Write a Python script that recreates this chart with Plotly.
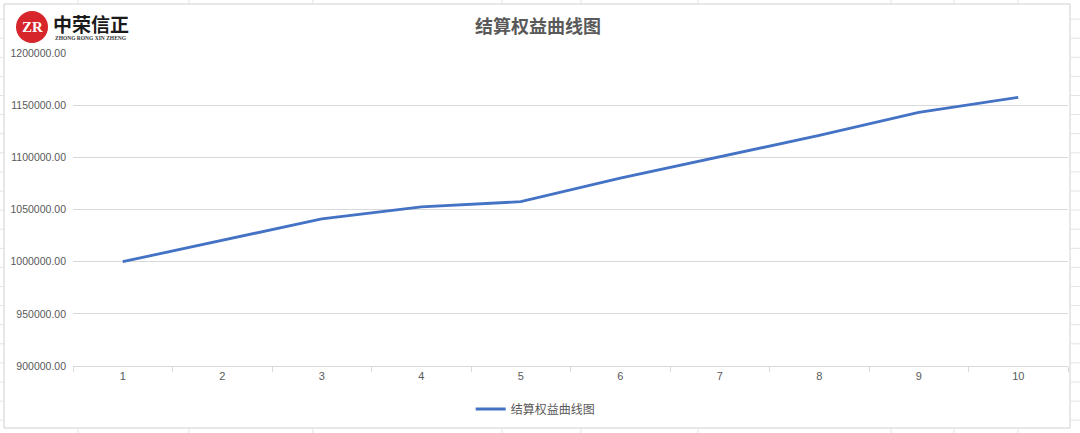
import plotly.graph_objects as go

categories = ["1", "2", "3", "4", "5", "6", "7", "8", "9", "10"]
equity = [1000000, 1020500, 1041000, 1052500, 1057500, 1080000, 1100500, 1121000, 1143000, 1157500]
series_name = "结算权益曲线图"
title_text = "结算权益曲线图"

W, H = 1080, 433
L, R, T, B = 73, 12, 53, 67
PW, PH = W - L - R, H - T - B


def px(x):
    return (x - L) / PW


def py(y):
    return (H - B - y) / PH


fig = go.Figure()
fig.add_trace(go.Scatter(
    x=categories, y=equity, mode="lines", name=series_name,
    line=dict(color="#4472C4", width=2.8),
))

CELL = "#e3e3e3"
shapes = []
# spreadsheet cell lines visible around the chart object
for k in range(23):
    yy = 19.1 * (k + 1)
    if yy > H:
        break
    shapes.append(dict(type="line", xref="paper", yref="paper", x0=px(1071), x1=px(1080), y0=py(yy), y1=py(yy),
                       line=dict(color=CELL, width=1), layer="below"))
    shapes.append(dict(type="line", xref="paper", yref="paper", x0=px(0), x1=px(3.5), y0=py(yy), y1=py(yy),
                       line=dict(color=CELL, width=1), layer="below"))
for xx in [78, 189, 313, 502, 581, 698, 891, 954, 1018]:
    shapes.append(dict(type="line", xref="paper", yref="paper", x0=px(xx), x1=px(xx), y0=py(0), y1=py(3.5),
                       line=dict(color=CELL, width=1), layer="below"))
    shapes.append(dict(type="line", xref="paper", yref="paper", x0=px(xx), x1=px(xx), y0=py(428.5), y1=py(433),
                       line=dict(color=CELL, width=1), layer="below"))
shapes += [
    # chart area border
    dict(type="rect", xref="paper", yref="paper", x0=px(4), x1=px(1070), y0=py(428), y1=py(4),
         line=dict(color="#d0d0d0", width=1), fillcolor="rgba(0,0,0,0)", layer="below"),
    # logo circle
    dict(type="circle", xref="paper", yref="paper", x0=px(16), x1=px(48), y0=py(43), y1=py(11),
         line=dict(color="#d7262b", width=0), fillcolor="#d7262b"),
]

annotations = [
    dict(text="<b>ZR</b>", xref="paper", yref="paper", x=px(32), y=py(27), showarrow=False,
         font=dict(family="Liberation Serif", size=15, color="white"), xanchor="center", yanchor="middle"),
    dict(text="<b>中荣信正</b>", xref="paper", yref="paper", x=px(51), y=py(23), showarrow=False,
         font=dict(family="Noto Sans CJK SC", size=19, color="#1a1a1a"), xanchor="left", yanchor="middle"),
    dict(text="<b>ZHONG RONG XIN ZHENG</b>", xref="paper", yref="paper", x=px(53), y=py(38), showarrow=False,
         font=dict(family="Liberation Serif", size=5.5, color="#333333"), xanchor="left", yanchor="middle"),
]

fig.update_layout(
    width=W, height=H,
    margin=dict(l=L, r=R, t=T, b=B, autoexpand=False),
    paper_bgcolor="white", plot_bgcolor="white",
    title=dict(text="<b>" + title_text + "</b>", x=px(538), xref="paper", xanchor="center",
               y=1 - 27 / H, yref="container", yanchor="middle",
               font=dict(family="Noto Sans CJK SC", size=18, color="#595959")),
    showlegend=True,
    legend=dict(orientation="h", x=0.465, xanchor="center", y=py(409), yanchor="middle",
                font=dict(family="Noto Sans CJK SC", size=12, color="#595959"),
                bgcolor="rgba(0,0,0,0)"),
    shapes=shapes,
    annotations=annotations,
    font=dict(family="Liberation Sans", color="#595959"),
)

fig.update_xaxes(
    type="category", range=[-0.5, 9.5], tickson="boundaries", ticks="outside", ticklen=5,
    tickcolor="#d9d9d9", automargin=False,
    showline=True, linecolor="#d9d9d9", linewidth=1, showgrid=False,
    tickfont=dict(family="Liberation Sans", size=11, color="#595959"),
)
fig.update_yaxes(
    range=[900000, 1200000], dtick=50000, tick0=900000, tickformat=".2f",
    showgrid=True, gridcolor="#d9d9d9", gridwidth=1, zeroline=False, showline=False,
    ticks="", automargin=False, ticklabelstandoff=6,
    tickfont=dict(family="Liberation Sans", size=10.5, color="#595959"),
)

fig.write_html("out.html", config={"displayModeBar": False},
               post_script="document.body.style.margin='0px';")
